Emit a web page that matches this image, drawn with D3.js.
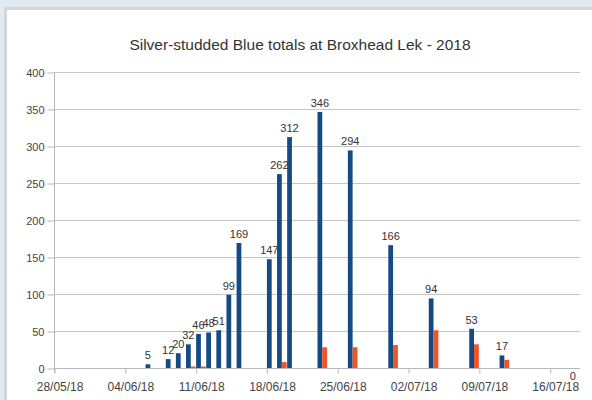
<!DOCTYPE html>
<html>
<head>
<meta charset="utf-8">
<script src="https://cdn.jsdelivr.net/npm/d3@7"></script>
<style>
  html, body { margin: 0; padding: 0; background: #e1eaf1; }
  svg { display: block; }
  text { font-family: "Liberation Sans", Arial, sans-serif; }
</style>
</head>
<body>
<svg id="chart" width="592" height="400"></svg>
<script>
// Survey days and counts
const surveyDates = ["2018-06-06","2018-06-08","2018-06-09","2018-06-10","2018-06-11","2018-06-12",
  "2018-06-13","2018-06-14","2018-06-15","2018-06-18","2018-06-19","2018-06-20","2018-06-23",
  "2018-06-26","2018-06-30","2018-07-04","2018-07-08","2018-07-11","2018-07-18"];
const totals = [5, 12, 20, 32, 46, 48, 51, 99, 169, 147, 262, 312, 346, 294, 166, 94, 53, 17, 0];
const secondCounts = [0, 0, 0, 2, 2, 0, 0, 0, 0, 0, 8, 0, 28, 28, 31, 51, 32, 11, 0];

const yTicks = [0, 50, 100, 150, 200, 250, 300, 350, 400];
const xTickDates = ["2018-05-28","2018-06-04","2018-06-11","2018-06-18","2018-06-25","2018-07-02","2018-07-09","2018-07-16"];
const titleText = "Silver-studded Blue totals at Broxhead Lek - 2018";

const parse = d3.utcParse("%Y-%m-%d");
const fmt = d3.utcFormat("%d/%m/%y");
const DAY = 864e5;

const svg = d3.select("#chart");

// white chart panel with a grey edge on top and left
svg.append("rect").attr("x", 4).attr("y", 7).attr("width", 588).attr("height", 393).attr("fill", "#d6d6d6");
svg.append("rect").attr("x", 7).attr("y", 10).attr("width", 585).attr("height", 390).attr("fill", "#ffffff");

const x = d3.scaleUtc()
  .domain([parse("2018-05-28"), parse("2018-07-19")])
  .range([54, 580]);
const y = d3.scaleLinear().domain([0, 400]).range([368, 72]);

// horizontal grid
svg.append("g").selectAll("line").data(yTicks).join("line")
  .attr("x1", 54).attr("x2", 580)
  .attr("y1", d => y(d) + 0.5).attr("y2", d => y(d) + 0.5)
  .attr("stroke", "#c6c6c6").attr("stroke-width", 1);

// y axis
const yAxis = svg.append("g").attr("transform", "translate(54.5,0.5)")
  .call(d3.axisLeft(y).tickValues(yTicks).tickSize(7).tickPadding(3));
yAxis.select(".domain").attr("stroke", "#b8b8b8").attr("d", "M0," + y(400) + "V" + (y(0) + 4));
yAxis.selectAll(".tick line").attr("stroke", "#b8b8b8");
yAxis.selectAll(".tick text").attr("fill", "#444").style("font-size", "11px")
  .style("font-family", "'Liberation Sans', Arial, sans-serif");

// x axis, labels sit at the middle of each tick's day
const xAxis = svg.append("g").attr("transform", "translate(0.5," + (y(0) + 0.5) + ")")
  .call(d3.axisBottom(x).tickValues(xTickDates.map(parse)).tickSize(5).tickFormat(fmt).tickPadding(9));
xAxis.select(".domain").attr("stroke", "#b8b8b8").attr("d", "M53.5,0H579.5");
xAxis.selectAll(".tick line").attr("stroke", "#b8b8b8");
xAxis.selectAll(".tick text").attr("fill", "#444").style("font-size", "12px")
  .attr("x", x(new Date(x.domain()[0].getTime() + DAY / 2)) - x(x.domain()[0]))
  .style("font-family", "'Liberation Sans', Arial, sans-serif");

const rows = surveyDates.map((d, i) => ({ date: parse(d), total: totals[i], second: secondCounts[i] }));
const at = (d, frac) => x(new Date(d.getTime() + frac * DAY));

// totals bars
svg.append("g").selectAll("rect").data(rows.filter(r => r.total > 0)).join("rect")
  .attr("x", r => at(r.date, 0.05))
  .attr("width", r => at(r.date, 0.52) - at(r.date, 0.05))
  .attr("y", r => y(r.total))
  .attr("height", r => y(0) - y(r.total))
  .attr("fill", "#154a82");

// second series bars
svg.append("g").selectAll("rect").data(rows.filter(r => r.second > 0)).join("rect")
  .attr("x", r => at(r.date, 0.52))
  .attr("width", r => at(r.date, 1.0) - at(r.date, 0.52))
  .attr("y", r => y(r.second))
  .attr("height", r => y(0) - y(r.second))
  .attr("fill", "#ee5528");

// value labels on the totals
svg.append("g").selectAll("text").data(rows).join("text")
  .attr("x", r => at(r.date, 0.285))
  .attr("y", r => r.total > 0 ? y(r.total) - 5 : y(0) + 12)
  .attr("text-anchor", "middle")
  .attr("fill", "#333")
  .style("font-size", "11px")
  .text(r => r.total);

// title
svg.append("text")
  .attr("x", 300).attr("y", 50)
  .attr("text-anchor", "middle")
  .attr("fill", "#333")
  .style("font-size", "15.5px")
  .text(titleText);
</script>
</body>
</html>
